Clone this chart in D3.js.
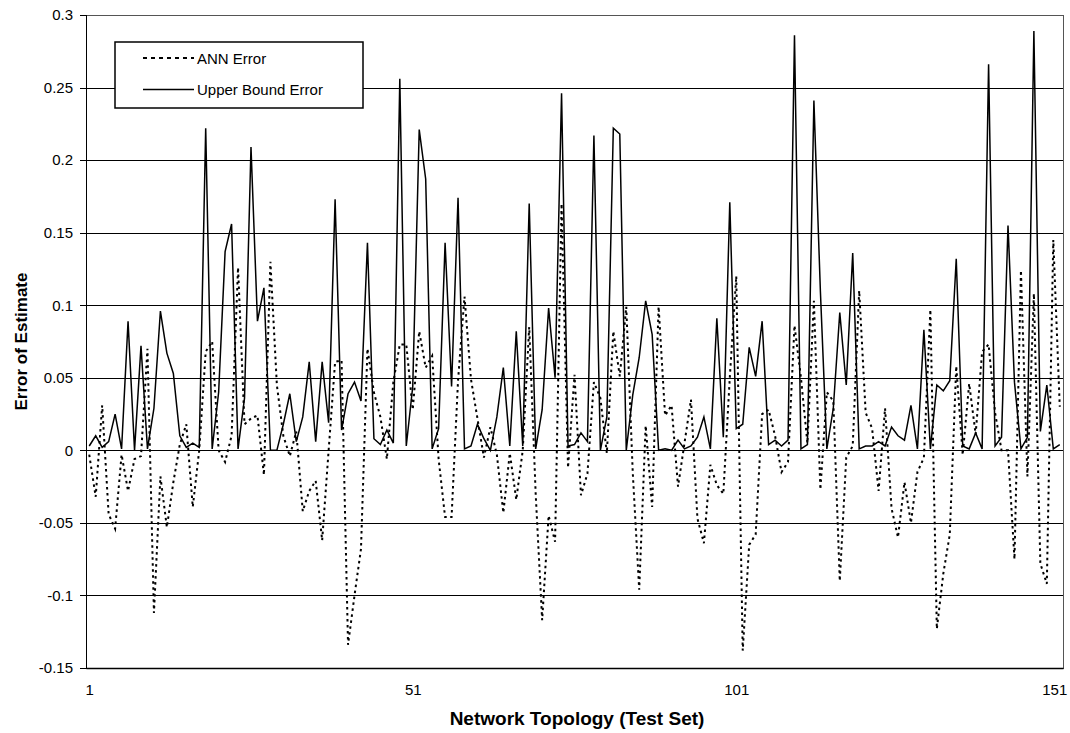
<!DOCTYPE html>
<html>
<head>
<meta charset="utf-8">
<script src="https://cdn.jsdelivr.net/npm/d3@7"></script>
<style>
  body { margin: 0; background: #fff; }
  svg { display: block; }
  text { font-family: "Liberation Sans", Arial, sans-serif; fill: #000; }
</style>
</head>
<body>
<svg id="chart" width="1070" height="733"></svg>
<script>
// Error of estimate for each network topology in the test set (1..151)
const annError = [
  -0.003, -0.032, 0.031, -0.044, -0.054, -0.003, -0.028, -0.006, -0.004, 0.070,
  -0.112, -0.018, -0.053, -0.022, 0.004, 0.018, -0.039, 0.000, 0.068, 0.075,
  0.000, -0.008, 0.010, 0.126, 0.018, 0.022, 0.024, -0.017, 0.130, 0.045,
  0.010, -0.004, 0.013, -0.042, -0.028, -0.021, -0.062, 0.000, 0.061, 0.062,
  -0.134, -0.100, -0.068, 0.070, 0.040, 0.023, -0.006, 0.047, 0.073, 0.073,
  0.028, 0.082, 0.057, 0.065, -0.006, -0.046, -0.046, 0.048, 0.106, 0.049,
  0.022, -0.005, 0.016, -0.003, -0.043, -0.002, -0.034, 0.000, 0.085, -0.030,
  -0.117, -0.045, -0.063, 0.170, -0.012, 0.052, -0.031, -0.016, 0.047, 0.036,
  -0.002, 0.082, 0.051, 0.099, -0.015, -0.096, 0.017, -0.039, 0.099, 0.024,
  0.031, -0.025, 0.005, 0.035, -0.047, -0.064, -0.010, -0.024, -0.030, 0.050,
  0.120, -0.138, -0.065, -0.058, 0.025, 0.028, 0.010, -0.015, -0.008, 0.086,
  0.050, 0.005, 0.103, -0.027, 0.040, 0.034, -0.090, -0.005, 0.003, 0.110,
  0.026, 0.015, -0.028, 0.029, -0.040, -0.060, -0.022, -0.050, -0.015, -0.005,
  0.097, -0.123, -0.085, -0.058, 0.058, -0.003, 0.046, 0.011, 0.068, 0.073,
  0.026, 0.000, 0.000, -0.075, 0.124, -0.018, 0.108, -0.078, -0.092, 0.145,
  0.030
];

const upperBoundError = [
  0.003, 0.010, 0.002, 0.006, 0.025, 0.001, 0.089, 0.000, 0.072, 0.001,
  0.029, 0.096, 0.067, 0.053, 0.010, 0.002, 0.005, 0.002, 0.222, 0.001,
  0.040, 0.137, 0.156, 0.001, 0.036, 0.209, 0.089, 0.112, 0.000, 0.000,
  0.018, 0.039, 0.006, 0.023, 0.061, 0.006, 0.061, 0.019, 0.173, 0.014,
  0.039, 0.047, 0.034, 0.143, 0.008, 0.004, 0.014, 0.005, 0.256, 0.003,
  0.044, 0.221, 0.187, 0.001, 0.015, 0.143, 0.044, 0.174, 0.001, 0.003,
  0.018, 0.008, 0.000, 0.023, 0.057, 0.003, 0.082, 0.003, 0.170, 0.001,
  0.028, 0.098, 0.050, 0.246, 0.003, 0.004, 0.012, 0.006, 0.217, 0.000,
  0.023, 0.222, 0.218, 0.000, 0.038, 0.064, 0.103, 0.080, 0.000, 0.001,
  0.000, 0.007, 0.001, 0.003, 0.009, 0.023, 0.001, 0.091, 0.009, 0.171,
  0.015, 0.018, 0.071, 0.051, 0.089, 0.004, 0.007, 0.003, 0.007, 0.286,
  0.001, 0.004, 0.241, 0.110, 0.001, 0.029, 0.095, 0.045, 0.136, 0.001,
  0.003, 0.003, 0.006, 0.003, 0.016, 0.010, 0.007, 0.031, 0.001, 0.083,
  0.001, 0.045, 0.041, 0.048, 0.132, 0.003, 0.001, 0.012, 0.001, 0.266,
  0.003, 0.009, 0.155, 0.047, 0.001, 0.009, 0.289, 0.013, 0.045, 0.001,
  0.004
];

const topologies = d3.range(1, annError.length + 1);
const yTicks = [0.3, 0.25, 0.2, 0.15, 0.1, 0.05, 0, -0.05, -0.1, -0.15];
const yTickLabels = ["0.3", "0.25", "0.2", "0.15", "0.1", "0.05", "0", "-0.05", "-0.1", "-0.15"];
const xTickValues = [1, 51, 101, 151];
const seriesNames = ["ANN Error", "Upper Bound Error"];

const plot = { left: 86, top: 15, right: 1063, bottom: 668 };

const svg = d3.select("#chart");

// Category axis: each topology sits in the middle of its own slot
const x = d3.scaleLinear()
  .domain([0.5, topologies.length + 0.5])
  .range([plot.left, plot.right]);

const y = d3.scaleLinear()
  .domain([-0.15, 0.3])
  .range([plot.bottom, plot.top]);

// Horizontal gridlines
svg.append("g")
  .attr("transform", `translate(${plot.left},0)`)
  .call(d3.axisLeft(y).tickValues(yTicks).tickSize(-(plot.right - plot.left)).tickFormat(""))
  .call(g => g.select(".domain").remove())
  .call(g => g.selectAll("line").attr("stroke", "#000").attr("stroke-width", 1).attr("shape-rendering", "crispEdges"));

// Plot frame
svg.append("rect")
  .attr("x", plot.left).attr("y", plot.top)
  .attr("width", plot.right - plot.left).attr("height", plot.bottom - plot.top)
  .attr("fill", "none").attr("stroke", "#555").attr("stroke-width", 1)
  .attr("shape-rendering", "crispEdges");

// Value axis
svg.append("g")
  .attr("transform", `translate(${plot.left},0)`)
  .call(d3.axisLeft(y).tickValues(yTicks).tickSize(6).tickPadding(7)
    .tickFormat((d, i) => yTickLabels[i]))
  .call(g => g.select(".domain").attr("stroke", "#000").attr("shape-rendering", "crispEdges"))
  .call(g => g.selectAll("line").attr("stroke", "#000").attr("shape-rendering", "crispEdges"))
  .call(g => g.selectAll("text").style("font-size", "15px").attr("fill", "#000")
    .style("font-family", "'Liberation Sans', Arial, sans-serif"));

// Category axis
svg.append("g")
  .attr("transform", `translate(0,${plot.bottom})`)
  .call(d3.axisBottom(x).tickValues(xTickValues).tickSize(0).tickPadding(16)
    .tickFormat(d3.format("d")))
  .call(g => g.select(".domain").attr("stroke", "#000").attr("stroke-width", 1.5))
  .call(g => g.selectAll("text").style("font-size", "15px").attr("fill", "#000")
    .style("font-family", "'Liberation Sans', Arial, sans-serif"))
  // keep the last label inside the canvas
  .call(g => g.selectAll(".tick").filter(d => d === xTickValues[xTickValues.length - 1])
    .select("text").attr("text-anchor", "end").attr("dx", "7"));

// Series lines
const line = values => d3.line()
  .x((d, i) => x(topologies[i]))
  .y(d => y(d))(values);

svg.append("path")
  .attr("d", line(annError))
  .attr("fill", "none")
  .attr("stroke", "#000")
  .attr("stroke-width", 2)
  .attr("stroke-dasharray", "2.5,3.5");

svg.append("path")
  .attr("d", line(upperBoundError))
  .attr("fill", "none")
  .attr("stroke", "#000")
  .attr("stroke-width", 1.5)
  .attr("stroke-linejoin", "miter");

// Axis titles
svg.append("text")
  .attr("transform", `translate(27,${(plot.top + plot.bottom) / 2}) rotate(-90)`)
  .attr("text-anchor", "middle")
  .style("font-size", "17px").style("font-weight", "bold")
  .text("Error of Estimate");

svg.append("text")
  .attr("x", 577)
  .attr("y", 725)
  .attr("text-anchor", "middle")
  .style("font-size", "19px").style("font-weight", "bold")
  .text("Network Topology (Test Set)");

// Legend
const legend = svg.append("g").attr("transform", "translate(115,42)");
legend.append("rect")
  .attr("width", 248).attr("height", 66)
  .attr("fill", "#fff").attr("stroke", "#000").attr("stroke-width", 1.5);

const entries = [
  { name: seriesNames[0], dash: "4,4", width: 2 },
  { name: seriesNames[1], dash: null, width: 1.5 }
];
entries.forEach((e, i) => {
  const yy = 16 + i * 31.5;
  legend.append("line")
    .attr("x1", 28).attr("x2", 79).attr("y1", yy).attr("y2", yy)
    .attr("stroke", "#000").attr("stroke-width", e.width)
    .attr("stroke-dasharray", e.dash);
  legend.append("text")
    .attr("x", 82).attr("y", yy + 5.5)
    .style("font-size", "15px")
    .text(e.name);
});
</script>
</body>
</html>
